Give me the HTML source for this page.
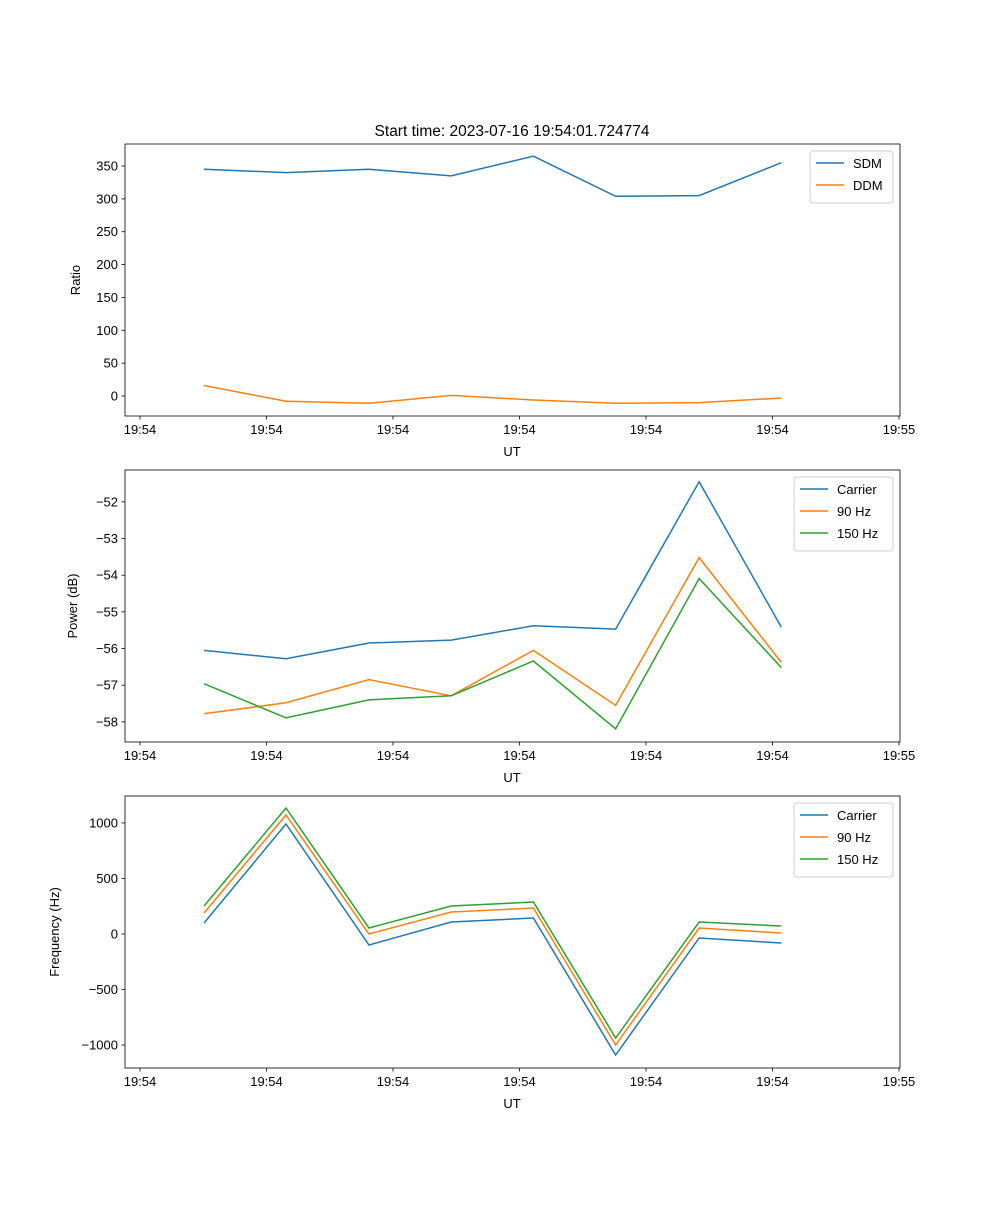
<!DOCTYPE html>
<html><head><meta charset="utf-8"><style>
body{margin:0;background:#fff}
svg text{font-family:"Liberation Sans","DejaVu Sans",sans-serif;font-size:13px;fill:#000}
</style></head><body>
<svg id="fig" width="1000" height="1200" xmlns="http://www.w3.org/2000/svg">
<text x="512" y="136" text-anchor="middle" font-size="15.5" style="font-size:15.5px">Start time: 2023-07-16 19:54:01.724774</text>
</svg>
<script>
const xSeconds=[5.06,11.54,18.1,24.6,31.1,37.6,44.2,50.7];
const xTickVals=[0,10,20,30,40,50,60];
const xTickLabels=["19:54","19:54","19:54","19:54","19:54","19:54","19:55"];
const sdm=[345,340,345,335,365,304,305,355];
const ddm=[16,-8,-11,1,-6,-11,-10,-3];
const pCarrier=[-56.05,-56.28,-55.85,-55.77,-55.38,-55.47,-51.45,-55.42];
const p90=[-57.78,-57.48,-56.85,-57.29,-56.05,-57.55,-53.52,-56.38];
const p150=[-56.96,-57.89,-57.4,-57.29,-56.34,-58.19,-54.09,-56.52];
const fCarrier=[99,991,-99,108,144,-1090,-36,-81];
const f90=[189,1072,0,198,234,-1000,54,9];
const f150=[252,1135,54,252,288,-937,108,72];
const ratioTicks=[0,50,100,150,200,250,300,350];
const powerTicks=[-58,-57,-56,-55,-54,-53,-52];
const freqTicks=[-1000,-500,0,500,1000];
const C1="#1f77b4",C2="#ff7f0e",C3="#2ca02c";
const NS="http://www.w3.org/2000/svg";
const svg=document.getElementById('fig');
function mk(tag,attrs,parent){const e=document.createElementNS(NS,tag);for(const k in attrs)e.setAttribute(k,attrs[k]);(parent||svg).appendChild(e);return e;}
const L=125,R=900;
const xs=v=>140+v*(759/60);
function panel(name,top,bottom,ymin,ymax,yticks,ylabel,series,legend,legendW){
  const g=mk('g',{});
  
  
  const ys=v=>bottom-(v-ymin)/(ymax-ymin)*(bottom-top);
  series.forEach(s=>{
    const p=mk('polyline',{points:s.data.map((v,i)=>xs(xSeconds[i])+','+ys(v)).join(' '),fill:'none',stroke:s.color,'stroke-width':1.5},g);
    
    
  });
  const fr=mk('rect',{x:L,y:top,width:R-L,height:bottom-top,fill:'none',stroke:'#000','stroke-width':0.8},g);
  
  
  xTickVals.forEach((v,i)=>{
    const x=xs(v);
    mk('line',{x1:x,x2:x,y1:bottom,y2:bottom+3.5,stroke:'#000','stroke-width':0.8},g);
    const t=mk('text',{x:x,y:bottom+18,'text-anchor':'middle'},g);t.textContent=xTickLabels[i];
    
    
  });
  const xl=mk('text',{x:512,y:bottom+40,'text-anchor':'middle'},g);xl.textContent='UT';
  
  
  yticks.forEach(v=>{
    const y=ys(v);
    mk('line',{x1:L-3.5,x2:L,y1:y,y2:y,stroke:'#000','stroke-width':0.8},g);
    const t=mk('text',{x:L-7,y:y+4.5,'text-anchor':'end'},g);t.textContent=String(v).replace('-','\u2212');
    
    
  });
  const lx=ylabel.x,ly=(top+bottom)/2;
  const yl=mk('text',{x:lx,y:ly,'text-anchor':'middle',transform:`rotate(-90 ${lx} ${ly})`},g);yl.textContent=ylabel.t;
  
  
  const lg=mk('g',{},g);
  
  
  const lh=8+legend.length*22;
  mk('rect',{x:R-7-legendW,y:top+7,width:legendW,height:lh,rx:3,fill:'#fff',stroke:'#ccc','stroke-width':1},lg);
  legend.forEach((s,i)=>{
    const y=top+19+i*22;
    mk('line',{x1:R-7-legendW+6,x2:R-7-legendW+34,y1:y,y2:y,stroke:s.color,'stroke-width':1.5},lg);
    const t=mk('text',{x:R-7-legendW+43,y:y+5},lg);t.textContent=s.label;
    
    
  });
}
panel('ratio',144,416,-30.4,383.5,ratioTicks,{x:80,t:'Ratio'},
  [{key:'sdm',data:sdm,color:C1},{key:'ddm',data:ddm,color:C2}],
  [{label:'SDM',color:C1},{label:'DDM',color:C2}],83);
panel('power',470,742,-58.55,-51.13,powerTicks,{x:77,t:'Power (dB)'},
  [{key:'carrier',data:pCarrier,color:C1},{key:'90hz',data:p90,color:C2},{key:'150hz',data:p150,color:C3}],
  [{label:'Carrier',color:C1},{label:'90 Hz',color:C2},{label:'150 Hz',color:C3}],99);
panel('frequency',796,1068,-1207,1243,freqTicks,{x:59,t:'Frequency (Hz)'},
  [{key:'carrier',data:fCarrier,color:C1},{key:'90hz',data:f90,color:C2},{key:'150hz',data:f150,color:C3}],
  [{label:'Carrier',color:C1},{label:'90 Hz',color:C2},{label:'150 Hz',color:C3}],99);
</script>
</body></html>
